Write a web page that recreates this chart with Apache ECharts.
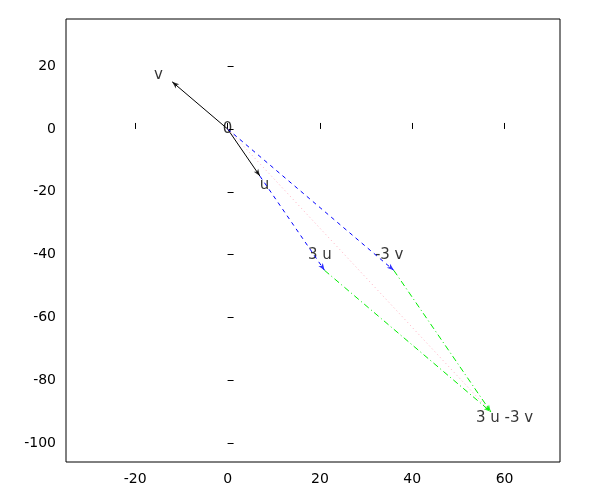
<!DOCTYPE html><html><head><meta charset="utf-8"><script src="https://cdn.jsdelivr.net/npm/echarts@6/dist/echarts.min.js"></script></head><body style="margin:0"><div id="c" style="width:600px;height:500px"></div><script>
const origin=[0,0], u=[7,-15], v=[-12,15], u3=[21,-45], mv3=[36,-45], w=[57,-90];
const xTicks=[-20,0,20,40,60], yTicks=[-100,-80,-60,-40,-20,0,20];
const labels=[{p:[0,0],t:'0',o:[0,0]},{p:[8,-18],t:'u',o:[0,0]},{p:[-15,17],t:'v',o:[0,0]},{p:[20,-40],t:'3 u',o:[0,0]},{p:[35,-40],t:'-3 v',o:[0,0]},{p:[60,-92],t:'3 u -3 v',o:[0,0]}];
const segs=[
 {a:origin,b:u,c:'#000',t:'solid',arrow:true},
 {a:origin,b:v,c:'#000',t:'solid',arrow:true},
 {a:origin,b:mv3,c:'#0000ff',t:[4,4],arrow:true},
 {a:u,b:u3,c:'#0000ff',t:[4,4],arrow:true},
 {a:u3,b:w,c:'#00ee00',t:[6,3,1,3],arrow:true},
 {a:mv3,b:w,c:'#00ee00',t:[6,3,1,3],arrow:true},
 {a:origin,b:w,c:'#ffb0c0',t:[1,3],arrow:false}];
const sx=4.6, sy=3.15;
const series=[];
segs.forEach(s=>{
 series.push({type:'line',data:[s.a,s.b],symbol:'none',lineStyle:{color:s.c,type:s.t,width:1},silent:true});
 if(s.arrow){const dx=(s.b[0]-s.a[0])*sx, dy=(s.b[1]-s.a[1])*sy;const ang=Math.atan2(dy,dx)*180/Math.PI-90;
 series.push({type:'scatter',data:[s.b],symbol:'arrow',symbolSize:[4,7],symbolRotate:ang,itemStyle:{color:s.c}});}
});
series.push({type:'scatter',symbolSize:0,data:labels.map(l=>({value:l.p,label:{show:true,formatter:l.t}})),label:{position:'inside',color:'#000',fontSize:15,fontFamily:'DejaVu Sans'}});
const ax={axisLine:{show:false},splitLine:{show:false},axisTick:{inside:true,length:6,lineStyle:{color:'#000'}},axisLabel:{color:'#000',fontSize:14,fontFamily:'DejaVu Sans'}};
const chart=echarts.init(document.getElementById('c'));
chart.setOption({animation:false,backgroundColor:'#fff',
 grid:{left:66,right:40,top:19,bottom:38,show:true,borderColor:'#000',borderWidth:1},
 xAxis:Object.assign({type:'value',min:-35,max:72},JSON.parse(JSON.stringify(ax)),{axisTick:{inside:true,length:6,lineStyle:{color:'#000'},customValues:xTicks},axisLabel:{color:'#000',fontSize:14,fontFamily:'DejaVu Sans',customValues:xTicks,margin:10}}),
 yAxis:Object.assign({type:'value',min:-106,max:35},JSON.parse(JSON.stringify(ax)),{axisTick:{inside:true,length:6,lineStyle:{color:'#000'},customValues:yTicks},axisLabel:{color:'#000',fontSize:14,fontFamily:'DejaVu Sans',customValues:yTicks,margin:10}}),
 series});
</script></body></html>
